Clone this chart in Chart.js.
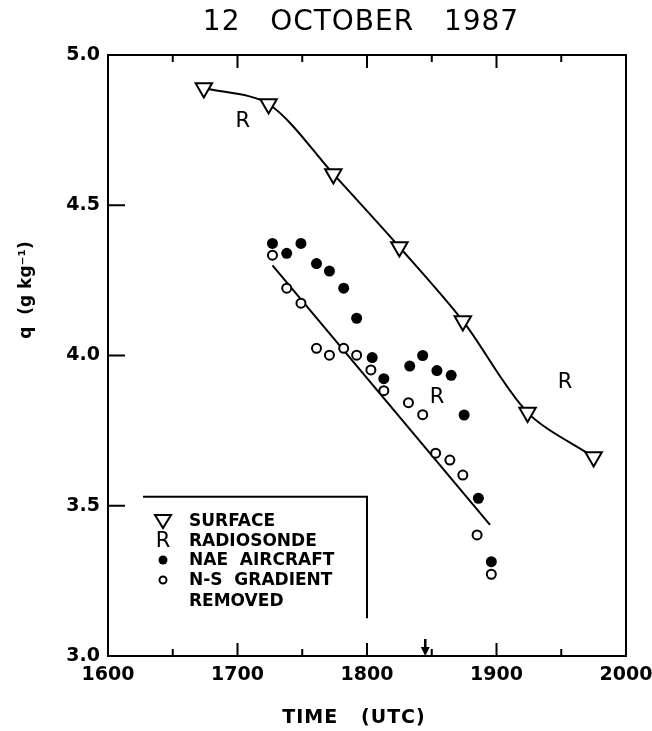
<!DOCTYPE html>
<html>
<head>
<meta charset="utf-8">
<script src="https://cdn.jsdelivr.net/npm/chart.js@4.4.0/dist/chart.umd.min.js"></script>
<style>
  html, body { margin: 0; padding: 0; background: #fff; }
  #wrap { width: 652px; height: 731px; }
</style>
</head>
<body>
<div id="wrap"><canvas id="myChart" width="652" height="731"></canvas></div>
<script>
// Data
const surfaceTime = [1674, 1724, 1774, 1825, 1874, 1924, 1975];
const surfaceQ = [4.89, 4.837, 4.604, 4.361, 4.115, 3.81, 3.662];

const radioTime = [1704, 1854, 1953];
const radioQ = [4.78, 3.86, 3.91];

const naeTime = [1727, 1738, 1749, 1761, 1771, 1782, 1792, 1804, 1813, 1833, 1843, 1854, 1865, 1875, 1886, 1896];
const naeQ = [4.373, 4.34, 4.373, 4.306, 4.281, 4.224, 4.124, 3.993, 3.923, 3.965, 4.0, 3.95, 3.934, 3.802, 3.525, 3.314];

const nsTime = [1727, 1738, 1749, 1761, 1771, 1782, 1792, 1803, 1813, 1832, 1843, 1853, 1864, 1874, 1885, 1896];
const nsQ = [4.334, 4.224, 4.174, 4.024, 4.001, 4.024, 4.001, 3.952, 3.883, 3.843, 3.803, 3.675, 3.652, 3.602, 3.403, 3.272];

const fitTime = [1727, 1895];
const fitQ = [4.30, 3.436];

const arrowTime = 1845;

const xTicks = [1600, 1700, 1800, 1900, 2000];
const yTicks = [3.0, 3.5, 4.0, 4.5, 5.0];

const legendItems = ['SURFACE', 'RADIOSONDE', 'NAE  AIRCRAFT', 'N-S  GRADIENT', 'REMOVED'];

function pts(xs, ys) {
  return xs.map((x, i) => ({x: x, y: ys[i]}));
}

const FONT = '"DejaVu Sans", sans-serif';

// Frame, inward ticks, arrow, legend, titles, R markers
const decor = {
  id: 'decor',
  afterDatasetsDraw(chart) {
    const ctx = chart.ctx;
    const a = chart.chartArea;
    const xs = chart.scales.x, ys = chart.scales.y;
    ctx.save();
    ctx.strokeStyle = '#000';
    ctx.fillStyle = '#000';

    // R markers for radiosonde
    const meta = chart.getDatasetMeta(1);
    ctx.font = '21px ' + FONT;
    ctx.textAlign = 'center';
    ctx.textBaseline = 'middle';
    meta.data.forEach(p => ctx.fillText('R', p.x, p.y));

    // frame
    ctx.lineWidth = 2;
    ctx.strokeRect(a.left, a.top, a.right - a.left, a.bottom - a.top);

    // x ticks top and bottom
    for (let t = 1650; t < 2000; t += 50) {
      const px = xs.getPixelForValue(t);
      const len = (t % 100 === 0) ? 13 : 7;
      ctx.beginPath();
      ctx.moveTo(px, a.bottom); ctx.lineTo(px, a.bottom - len);
      ctx.moveTo(px, a.top); ctx.lineTo(px, a.top + len);
      ctx.stroke();
    }
    // y ticks left
    [3.5, 4.0, 4.5].forEach(v => {
      const py = ys.getPixelForValue(v);
      ctx.beginPath();
      ctx.moveTo(a.left, py); ctx.lineTo(a.left + 17, py);
      ctx.stroke();
    });

    // arrow at bottom
    const ax = xs.getPixelForValue(arrowTime);
    ctx.lineWidth = 2.5;
    ctx.beginPath();
    ctx.moveTo(ax, a.bottom - 17); ctx.lineTo(ax, a.bottom - 4);
    ctx.stroke();
    ctx.beginPath();
    ctx.moveTo(ax - 4.5, a.bottom - 9); ctx.lineTo(ax + 4.5, a.bottom - 9); ctx.lineTo(ax, a.bottom);
    ctx.closePath();
    ctx.fill();

    // legend frame
    const lx0 = xs.getPixelForValue(1627), lx1 = xs.getPixelForValue(1800);
    const ly0 = ys.getPixelForValue(3.53), ly1 = ys.getPixelForValue(3.126);
    ctx.lineWidth = 2;
    ctx.beginPath();
    ctx.moveTo(lx0, ly0); ctx.lineTo(lx1, ly0); ctx.lineTo(lx1, ly1);
    ctx.stroke();

    // legend symbols
    const sx = 163, rowY = [521, 541, 560, 580, 601];
    ctx.lineWidth = 2;
    ctx.beginPath();
    ctx.moveTo(sx - 8, rowY[0] - 6); ctx.lineTo(sx + 8, rowY[0] - 6); ctx.lineTo(sx, rowY[0] + 7);
    ctx.closePath();
    ctx.stroke();
    ctx.font = '21px ' + FONT;
    ctx.textAlign = 'center';
    ctx.fillText('R', sx, rowY[1] + 1);
    ctx.beginPath(); ctx.arc(sx, rowY[2], 4.5, 0, Math.PI * 2); ctx.fill();
    ctx.beginPath(); ctx.arc(sx, rowY[3], 3.5, 0, Math.PI * 2); ctx.stroke();

    ctx.font = 'bold 17px ' + FONT;
    ctx.textAlign = 'left';
    legendItems.forEach((s, i) => ctx.fillText(s, 189, rowY[i] + 1));

    // title
    ctx.font = '28px ' + FONT;
    ctx.textAlign = 'center';
    ctx.letterSpacing = '1px';
    ctx.fillText('12   OCTOBER   1987', 361, 23);

    // x title
    ctx.font = 'bold 19px ' + FONT;
    ctx.letterSpacing = '1px';
    ctx.fillText('TIME   (UTC)', 354, 718);

    // y title
    ctx.letterSpacing = '0px';
    ctx.translate(27, 290);
    ctx.rotate(-Math.PI / 2);
    ctx.font = 'bold 17px ' + FONT;
    ctx.fillText('q  (g kg\u207B\u00B9)', 0, 0);
    ctx.restore();
  }
};

const config = {
  type: 'scatter',
  data: {
    datasets: [
      {
        label: 'SURFACE',
        data: pts(surfaceTime, surfaceQ),
        showLine: true,
        tension: 0.3,
        borderColor: '#000',
        borderWidth: 2,
        pointStyle: 'triangle',
        rotation: 180,
        pointRadius: 9.5,
        pointBackgroundColor: '#fff',
        pointBorderColor: '#000',
        pointBorderWidth: 2
      },
      {
        label: 'RADIOSONDE',
        data: pts(radioTime, radioQ),
        pointRadius: 0,
        showLine: false
      },
      {
        label: 'NAE AIRCRAFT',
        data: pts(naeTime, naeQ),
        pointRadius: 5.5,
        pointBackgroundColor: '#000',
        pointBorderColor: '#000',
        pointBorderWidth: 0
      },
      {
        label: 'N-S GRADIENT REMOVED',
        data: pts(nsTime, nsQ),
        pointRadius: 4.5,
        pointBackgroundColor: '#fff',
        pointBorderColor: '#000',
        pointBorderWidth: 2
      },
      {
        label: 'fit',
        data: pts(fitTime, fitQ),
        showLine: true,
        borderColor: '#000',
        borderWidth: 2,
        pointRadius: 0
      }
    ]
  },
  options: {
    responsive: false,
    animation: false,
    layout: { padding: { top: 55, right: 26, left: 0, bottom: 0 } },
    plugins: {
      legend: { display: false },
      tooltip: { enabled: false }
    },
    scales: {
      x: {
        type: 'linear',
        min: 1600,
        max: 2000,
        afterBuildTicks: s => { s.ticks = xTicks.map(v => ({value: v})); },
        afterFit: s => { s.height = 75; s.paddingLeft = 0; s.paddingRight = 0; },
        grid: { display: false, drawTicks: false },
        border: { display: false },
        ticks: {
          padding: 8,
          color: '#000',
          font: { family: FONT, size: 19, weight: 'bold' },
          callback: v => String(v)
        }
      },
      y: {
        type: 'linear',
        min: 3,
        max: 5,
        afterBuildTicks: s => { s.ticks = yTicks.map(v => ({value: v})); },
        afterFit: s => { s.width = 108; s.paddingTop = 0; s.paddingBottom = 0; },
        grid: { display: false, drawTicks: false },
        border: { display: false },
        ticks: {
          padding: 8,
          color: '#000',
          font: { family: FONT, size: 19, weight: 'bold' },
          callback: v => v.toFixed(1)
        }
      }
    }
  },
  plugins: [decor]
};

var myChart = new Chart(document.getElementById('myChart'), config);
</script>
</body>
</html>
